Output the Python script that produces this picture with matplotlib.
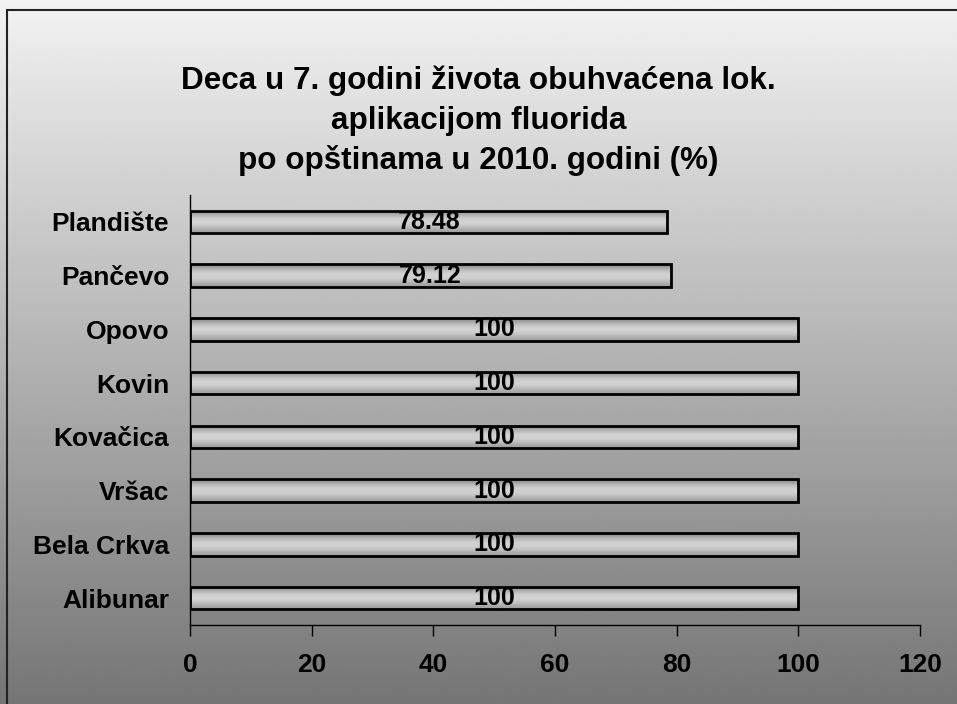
import numpy as np
import matplotlib
matplotlib.use("Agg")
import matplotlib.pyplot as plt
from matplotlib.patches import Rectangle

categories = ["Alibunar", "Bela Crkva", "Vršac", "Kovačica", "Kovin", "Opovo", "Pančevo", "Plandište"]
values = [100, 100, 100, 100, 100, 100, 79.12, 78.48]
value_labels = ["100", "100", "100", "100", "100", "100", "79.12", "78.48"]
x_ticks = [0, 20, 40, 60, 80, 100, 120]
title = "Deca u 7. godini života obuhvaćena lok.\naplikacijom fluorida\npo opštinama u 2010. godini (%)"

plt.rcParams['font.family'] = ['Liberation Sans', 'DejaVu Sans']

W, H = 957, 704
fig = plt.figure(figsize=(W / 100, H / 100), dpi=100)

# background gradient
bg = fig.add_axes([0, 0, 1, 1], zorder=-10)
grad = np.linspace(0.95, 0.46, 256).reshape(-1, 1)
bg.imshow(grad, aspect='auto', cmap='gray', vmin=0, vmax=1, extent=[0, 1, 0, 1], origin='upper')
bg.set_xlim(0, 1); bg.set_ylim(0, 1)
bg.axis('off')
bg.add_patch(Rectangle((7 / W, -0.05), 1.2, 1 - 10 / H + 0.05, fill=False, edgecolor='#222222', lw=1.5))

ax = fig.add_axes([190 / W, 1 - 625 / H, (920 - 190) / W, (625 - 195) / H])
ax.patch.set_alpha(0)
y = np.arange(len(categories))
bars = ax.barh(y, values, height=0.42, color='none', edgecolor='black', linewidth=2, zorder=3)

bar_grad = np.array([0.55, 0.70, 0.80, 0.83, 0.80, 0.72, 0.62]).reshape(-1, 1)
for rect in bars:
    x0, y0 = rect.get_x(), rect.get_y()
    w, h = rect.get_width(), rect.get_height()
    im = ax.imshow(bar_grad, aspect='auto', cmap='gray', vmin=0, vmax=1,
                   extent=[x0, x0 + w, y0, y0 + h], interpolation='bicubic', zorder=2)
    im.set_clip_path(rect)

for yi, v, lab in zip(y, values, value_labels):
    ax.text(v / 2, yi, lab, ha='center', va='center', fontsize=18, fontweight='bold', zorder=4)

ax.set_xlim(0, 120)
ax.set_ylim(-0.5, len(categories) - 0.5)
ax.set_xticks(x_ticks)
ax.set_xticklabels([str(t) for t in x_ticks], fontsize=19, fontweight='bold')
ax.set_yticks(y)
ax.set_yticklabels(categories, fontsize=19, fontweight='bold')
ax.tick_params(axis='y', length=0, pad=15)
ax.tick_params(axis='x', length=8, width=1, direction='out', pad=12)
for s in ['top', 'right']:
    ax.spines[s].set_visible(False)
for s in ['left', 'bottom']:
    ax.spines[s].set_linewidth(1)

fig.text(0.5, 1 - 121 / H, title, ha='center', va='center', fontsize=22.6, fontweight='bold',
         linespacing=1.4)

fig.savefig("out.png", dpi=100)
